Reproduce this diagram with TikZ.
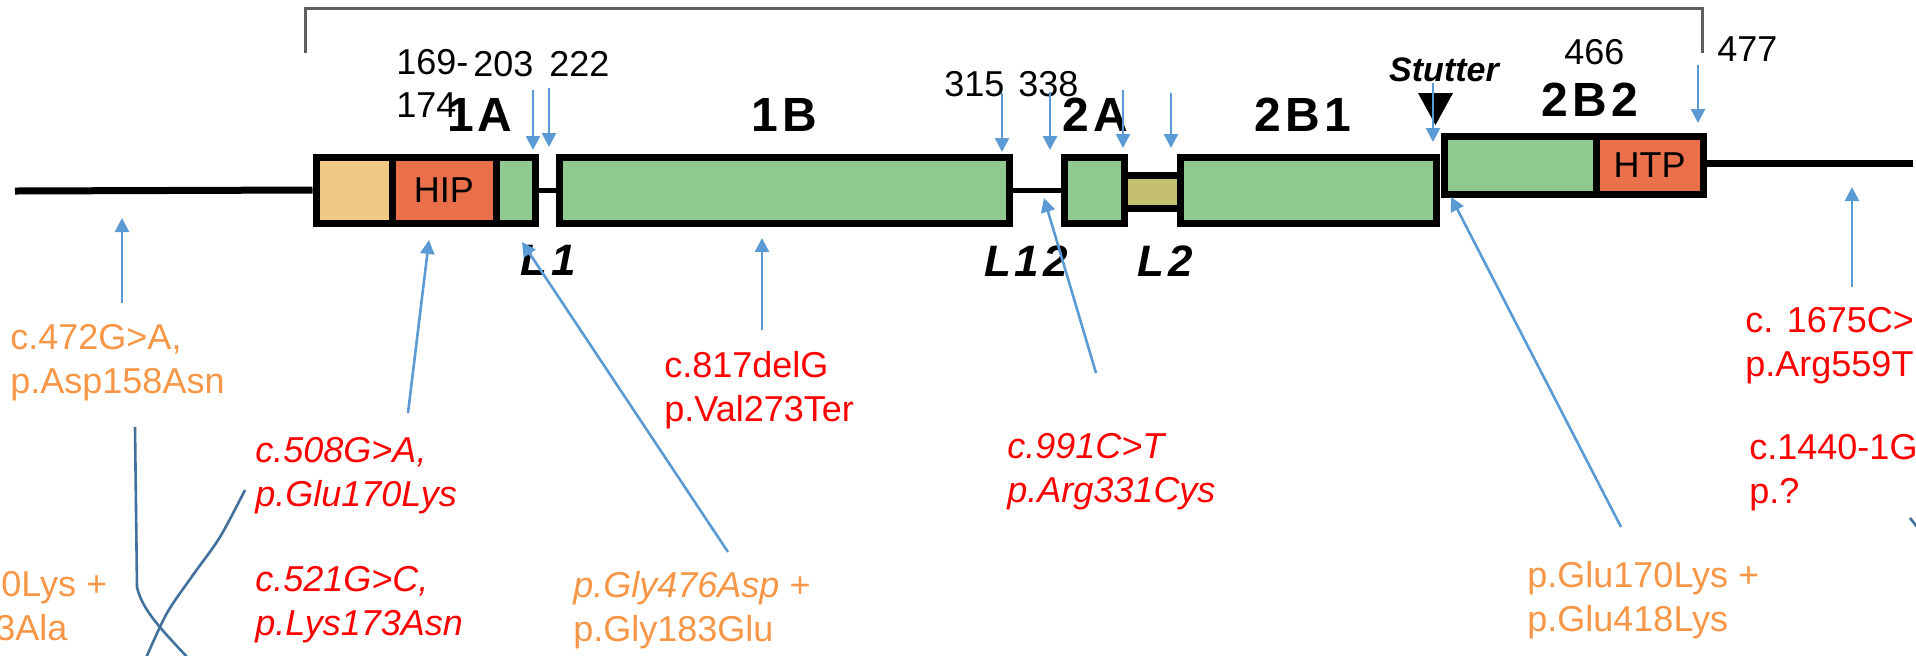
\documentclass[tikz,border=0pt]{standalone}
\usepackage{fontspec}
\setmainfont{Liberation Sans}
\usetikzlibrary{arrows.meta,positioning,calc}

\definecolor{domgreen}{RGB}{143,201,143}
\definecolor{dombeige}{RGB}{242,201,132}
\definecolor{domred}{RGB}{233,112,74}
\definecolor{linkolive}{RGB}{196,190,112}
\definecolor{pinblue}{RGB}{91,155,213}
\definecolor{curveblue}{RGB}{65,113,156}
\definecolor{mutred}{RGB}{255,0,0}
\definecolor{mutorange}{RGB}{247,150,70}
\definecolor{bracketgray}{RGB}{95,95,95}

\newcommand{\lsp}{\hspace{2pt}}

\tikzset{
  dom/.style={draw=black, line width=3.5pt, fill=domgreen, minimum height=33pt, inner sep=0pt,
    font=\fontsize{18}{21}\selectfont},
  domlabel/.style={font=\fontsize{24}{28}\selectfont\bfseries, inner sep=0pt},
  linklabel/.style={font=\fontsize{22}{26}\selectfont\bfseries\itshape, inner sep=0pt},
  num/.style={font=\fontsize{18}{21.5}\selectfont, inner sep=0pt, anchor=north west, align=left},
  mut/.style={font=\fontsize{18}{22}\selectfont, inner sep=0pt, anchor=north west, align=left},
  pin/.style={draw=pinblue, line width=1.3pt, -{Triangle[length=7pt,width=7pt]}},
  mainline/.style={line width=3.5pt},
  chain/.style={line width=2.5pt},
  curve/.style={draw=curveblue, line width=1.3pt},
}

\begin{document}
\begin{tikzpicture}[x=0.5pt,y=-0.5pt]
\useasboundingbox (0,0) rectangle (1916,655);

% bracket over the protein
\draw[bracketgray, line width=1.5pt] (305,53) -- (305,8) -- (1702,8) -- (1702,53);

% domains
\node[dom, fill=linkolive, minimum width=28pt, minimum height=16.5pt] (bL2) at (1152,192) {};
\node[dom, fill=dombeige, minimum width=38pt] (b1Abeige) at (354,190) {};
\node[dom, fill=domred, minimum width=52pt] (bHIP) at (444,190) {HIP};
\node[dom, minimum width=19.5pt] (b1Agreen) at (515.5,190) {};
\node[dom, minimum width=225pt] (b1B) at (784,190) {};
\node[dom, minimum width=30pt] (b2A) at (1094,190) {};
\node[dom, minimum width=128pt] (b2B1) at (1308,190) {};
\node[dom, minimum width=76pt, minimum height=29pt] (b2B2) at (1520,165.5) {};
\node[dom, fill=domred, minimum width=53.5pt, minimum height=29pt] (bHTP) at (1649.5,165.5) {HTP};

\coordinate (nterm) at (15,191);
\coordinate (cterm) at (1913,163);
\draw[mainline] (nterm) -- (b1Abeige.west);
\draw[mainline] (bHTP.east |- cterm) -- (cterm);
\draw[chain] (b1Agreen.east) -- (b1B.west);
\draw[chain] (b1B.east) -- (b2A.west);

% domain names
\node[domlabel] (l1A) at (480,115) {1\lsp A};
\node[domlabel] (l1B) at (784,115) {1\lsp B};
\node[domlabel] (l2A) at (1095,115) {2\lsp A};
\node[domlabel] (l2B1) at (1303,115) {2\lsp B\lsp 1};
\node[domlabel] (l2B2) at (1590,100) {2\lsp B\lsp 2};
\node[linklabel] (lL1) at (548,260) {L\lsp 1};
\node[linklabel] (lL12) at (1026,261) {L\lsp 1\lsp 2};
\node[linklabel] (lL2) at (1165,261) {L\lsp 2};
\node[font=\fontsize{17}{20}\selectfont\bfseries\itshape, inner sep=0pt] (stutter) at (1444,70) {Stutter};
\fill (1418,93) -- (1453,93) -- (1435.5,125) -- cycle;

% residue numbers
\node[num] (n169) at (396,49) {169-\\174};
\node[num] (n203) at (473,51) {203};
\node[num] (n222) at (549,51) {222};
\node[num] (n315) at (944,71) {315};
\node[num] (n338) at (1018,71) {338};
\node[num] (n466) at (1564,39) {466};
\node[num] (n477) at (1717,36) {477};

\coordinate (t203) at (533,150);
\coordinate (t222) at (549,147);
\coordinate (t315) at (1002,152);
\coordinate (t338) at (1050,150);
\coordinate (t2A) at (1123,148);
\coordinate (tL2) at (1171,148);
\coordinate (tstut) at (1433,142);
\coordinate (t477) at (1698,123);
\draw[pin] ($(t203 |- n203.south)+(0,13)$) -- (t203);
\draw[pin] ($(t222 |- n222.south)+(0,11)$) -- (t222);
\draw[pin] ($(t315 |- n315.south)+(0,-4)$) -- (t315);
\draw[pin] ($(t338 |- n338.south)+(0,-5)$) -- (t338);
\draw[pin] ($(t2A |- l2A.north)+(0,-8)$) -- (t2A);
\draw[pin] ($(tL2 |- l2B1.north)+(0,-5)$) -- (tL2);
\draw[pin] ($(tstut |- stutter.south)+(0,1)$) -- (tstut);
\draw[pin] ($(t477 |- n477.south)+(0,3)$) -- (t477);

% variants
\node[mut, text=mutorange] (mut472) at (10,324) {c.472G>A,\\p.Asp158Asn};
\node[mut, text=mutred, font=\fontsize{18}{22}\selectfont\itshape] (mut508) at (255,437) {c.508G>A,\\p.Glu170Lys};
\node[mut, text=mutred, font=\fontsize{18}{22}\selectfont\itshape] (mut521) at (255,566) {c.521G>C,\\p.Lys173Asn};
\node[mut, text=mutorange] (mutleft) at (1,571) {0Lys +\\\hspace*{-3pt}3Ala};
\node[mut, text=mutorange] (mut476) at (573,571) {\textit{p.Gly476Asp} +\\p.Gly183Glu};
\node[mut, text=mutred] (mut817) at (664,351) {c.817delG\\p.Val273Ter};
\node[mut, text=mutred, font=\fontsize{18}{22}\selectfont\itshape] (mut991) at (1007,433) {c.991C>T\\p.Arg331Cys};
\node[mut, text=mutorange] (mut418) at (1527,561) {p.Glu170Lys +\\p.Glu418Lys};
\node[mut, text=mutred] (mut1675) at (1745,307) {c. 1675C>\\p.Arg559T};
\node[mut, text=mutred] (mut1440) at (1749,434) {c.1440-1G\\p.?};

\coordinate (t472) at (122,218);
\coordinate (t508) at (429,240);
\coordinate (t476) at (522,242);
\coordinate (t817) at (762,238);
\coordinate (t991) at (1044,198);
\coordinate (t418) at (1451,197);
\coordinate (t1675) at (1852,187);
\draw[pin] ($(mut472.north west)+(112,-21)$) -- (t472);
\draw[pin] ($(mut508.north west)+(153,-24)$) -- (t508);
\draw[pin] ($(mut476.north west)+(155,-19)$) -- (t476);
\draw[pin] ($(mut817.north west)+(98,-21)$) -- (t817);
\draw[pin] ($(mut991.north west)+(89,-60)$) -- (t991);
\draw[pin] ($(mut418.north west)+(94,-34)$) -- (t418);
\draw[pin] ($(mut1675.north west)+(107,-20)$) -- (t1675);

% leader lines running off the picture
\draw[curve] (135,427) -- (137,587) .. controls (142,610) and (162,630) .. (188,658);
\draw[curve] plot[smooth] coordinates {(245,490) (220,537) (193,575) (167,613) (146,658)};
\draw[curve] (1910,518) -- (1918,528);
\end{tikzpicture}
\end{document}
